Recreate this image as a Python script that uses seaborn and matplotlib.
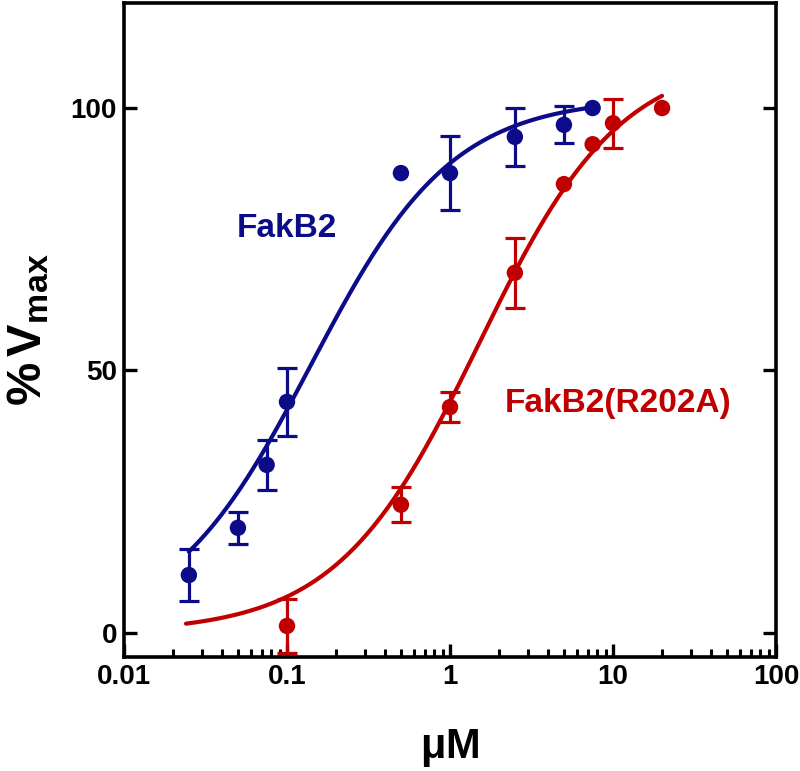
import numpy as np
import pandas as pd
import matplotlib
matplotlib.use("Agg")
import matplotlib.pyplot as plt
import seaborn as sns
from matplotlib.ticker import LogLocator, FixedLocator, NullFormatter

# ---------------- data ----------------
blue_x = [0.025, 0.05, 0.075, 0.1, 0.5, 1.0, 2.5, 5.0, 7.5]
blue_y = [11.0, 20.0, 32.0, 44.0, 87.6, 87.6, 94.5, 96.8, 100.0]
blue_err = [5.0, 3.0, 4.8, 6.5, 0.0, 7.0, 5.5, 3.5, 0.0]

red_x = [0.1, 0.5, 1.0, 2.5, 5.0, 7.5, 10.0, 20.0]
red_y = [1.3, 24.4, 43.0, 68.6, 85.5, 93.1, 97.1, 100.0]
red_err = [5.1, 3.3, 2.9, 6.7, 0.0, 0.0, 4.7, 0.0]

# Hill-fit parameters (bottom, top, EC50, slope) and curve ranges
blue_fit = dict(bottom=0.0, top=102.0, ec50=0.14, n=1.0, xmin=0.025, xmax=7.5)
red_fit = dict(bottom=0.0, top=110.0, ec50=1.5, n=1.0, xmin=0.024, xmax=20.0)

x_ticks = [0.01, 0.1, 1, 10, 100]
x_tick_labels = ["0.01", "0.1", "1", "10", "100"]
y_ticks = [0, 50, 100]
y_tick_labels = ["0", "50", "100"]

BLUE = "#0c0c8a"
RED = "#c00000"


def hill_curve(p, num=300):
    xs = np.geomspace(p["xmin"], p["xmax"], num)
    ys = p["bottom"] + (p["top"] - p["bottom"]) / (1.0 + (p["ec50"] / xs) ** p["n"])
    return pd.DataFrame({"x": xs, "y": ys})


sns.set_theme(style="ticks")
plt.rcParams["font.family"] = ["Liberation Sans", "DejaVu Sans"]
plt.rcParams["mathtext.fontset"] = "custom"
plt.rcParams["mathtext.rm"] = "Liberation Sans"
plt.rcParams["mathtext.bf"] = "Liberation Sans:bold"
plt.rcParams["mathtext.it"] = "Liberation Sans:italic"
for key in ["text.color", "axes.labelcolor", "xtick.color", "ytick.color", "axes.edgecolor"]:
    plt.rcParams[key] = "black"

fig = plt.figure(figsize=(8.0, 7.71), dpi=100)
ax = fig.add_axes([0.155, 0.148, 0.815, 0.848])

# fitted curves
bc = hill_curve(blue_fit)
rc = hill_curve(red_fit)
sns.lineplot(data=bc, x="x", y="y", ax=ax, color=BLUE, lw=3.0, zorder=3)
sns.lineplot(data=rc, x="x", y="y", ax=ax, color=RED, lw=3.0, zorder=3)

# error bars (only where present)
for xs, ys, es, col in [(blue_x, blue_y, blue_err, BLUE), (red_x, red_y, red_err, RED)]:
    xe = [x for x, e in zip(xs, es) if e > 0]
    ye = [y for y, e in zip(ys, es) if e > 0]
    ee = [e for e in es if e > 0]
    ax.errorbar(xe, ye, yerr=ee, fmt="none", ecolor=col, elinewidth=2.3,
                capsize=7.5, capthick=2.3, zorder=4)

# data points
pts = pd.concat([
    pd.DataFrame({"x": blue_x, "y": blue_y, "s": "FakB2"}),
    pd.DataFrame({"x": red_x, "y": red_y, "s": "FakB2(R202A)"}),
])
sns.scatterplot(data=pts, x="x", y="y", hue="s", palette={"FakB2": BLUE, "FakB2(R202A)": RED},
                s=140, edgecolor="none", ax=ax, legend=False, zorder=5)

ax.set_xscale("log")
ax.set_xlim(0.01, 100)
ax.set_ylim(-4.6, 120)

ax.xaxis.set_major_locator(FixedLocator(x_ticks))
ax.set_xticklabels(x_tick_labels)
ax.xaxis.set_minor_locator(LogLocator(base=10, subs=np.arange(2, 10), numticks=20))
ax.xaxis.set_minor_formatter(NullFormatter())
ax.set_yticks(y_ticks)
ax.set_yticklabels(y_tick_labels)

for side in ["left", "right", "top", "bottom"]:
    ax.spines[side].set_visible(True)
    ax.spines[side].set_linewidth(2.6)
    ax.spines[side].set_color("black")

ax.tick_params(axis="both", which="major", direction="in", length=9.5, width=2.4,
               labelsize=20, pad=5, color="black", labelcolor="black")
ax.tick_params(axis="x", which="minor", direction="in", length=6, width=2.2, color="black")
ax.tick_params(axis="y", which="both", left=True, right=True)
ax.tick_params(axis="x", which="both", top=False, bottom=True)
for lab in ax.get_xticklabels() + ax.get_yticklabels():
    lab.set_fontweight("bold")

ax.set_xlabel(r"$\mathbf{\mu M}$", fontsize=30, labelpad=27, color="black")
ax.set_ylabel(r"$\mathbf{\%\,V_{max}}$", fontsize=35, labelpad=14, color="black")

ax.text(0.1, 77, "FakB2", color=BLUE, fontsize=24, fontweight="bold", ha="center", va="center")
ax.text(10.7, 43.6, "FakB2(R202A)", color=RED, fontsize=24, fontweight="bold", ha="center", va="center")

ax.grid(False)
fig.savefig("out.png", dpi=100, facecolor="white")
